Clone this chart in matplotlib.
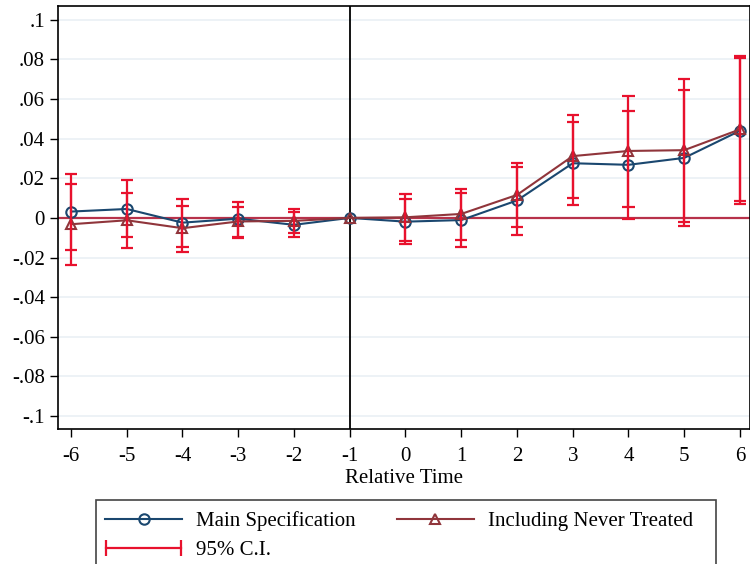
import numpy as np
import matplotlib.pyplot as plt
from matplotlib.lines import Line2D
from matplotlib.patches import Rectangle
from matplotlib.legend_handler import HandlerLine2D

plt.rcParams['font.family'] = ['Liberation Serif', 'DejaVu Serif']

rel_time = [-6, -5, -4, -3, -2, -1, 0, 1, 2, 3, 4, 5, 6]

# main specification: point estimate and 95% CI
main_est = [0.0032, 0.0045, -0.0024, -0.0004, -0.0035, 0.0, -0.0019, -0.0011, 0.0088, 0.0276, 0.0268, 0.0303, 0.0440]
main_lo = [-0.016, -0.0097, -0.0145, -0.0098, -0.0097, 0.0, -0.0133, -0.0148, -0.0087, 0.0066, -0.0007, -0.0040, 0.0071]
main_hi = [0.022, 0.019, 0.0094, 0.0081, 0.0029, 0.0, 0.0096, 0.0125, 0.0259, 0.0486, 0.0542, 0.0646, 0.0808]

# including never treated
nev_est = [-0.0032, -0.0012, -0.0052, -0.0018, -0.0015, 0.0, 0.0003, 0.0020, 0.0116, 0.0312, 0.0338, 0.0342, 0.0447]
nev_lo = [-0.024, -0.0153, -0.017, -0.0101, -0.0077, 0.0, -0.0115, -0.0111, -0.0044, 0.0099, 0.0057, -0.0019, 0.0086]
nev_hi = [0.017, 0.0125, 0.0062, 0.0057, 0.0045, 0.0, 0.0121, 0.0148, 0.0276, 0.052, 0.0618, 0.0702, 0.0815]

yticks = [0.1, 0.08, 0.06, 0.04, 0.02, 0, -0.02, -0.04, -0.06, -0.08, -0.1]
ytick_labels = ['.1', '.08', '.06', '.04', '.02', '0', '-.02', '-.04', '-.06', '-.08', '-.1']

blue = '#1a476f'
maroon = '#90353b'
ci_red = '#e8112d'

fig = plt.figure(figsize=(7.5, 5.64), dpi=100)
ax = fig.add_axes([58 / 750, 1 - 429 / 564, (750 - 58) / 750, (429 - 6) / 564])

ax.set_xlim(-6.233, 6.18)
ax.set_ylim(-0.1066, 0.107)

for y in yticks:
    ax.axhline(y, color='#eaf0f5', lw=1.2, zorder=0)
ax.axhline(0, color='#b7324a', lw=1.6, zorder=1)
ax.axvline(-1, color='black', lw=1.3, zorder=1)

ax.plot(rel_time, main_est, color=blue, lw=1.5, marker='o', ms=7.5,
        mfc='none', mec=blue, mew=1.5, zorder=3)
ax.plot(rel_time, nev_est, color=maroon, lw=1.5, marker='^', ms=7.5,
        mfc='none', mec=maroon, mew=1.5, zorder=3)

ci_x = [t for t in rel_time if t != -1]
for est, lo, hi in [(main_est, main_lo, main_hi), (nev_est, nev_lo, nev_hi)]:
    lo_k = [l for t, l in zip(rel_time, lo) if t != -1]
    hi_k = [h for t, h in zip(rel_time, hi) if t != -1]
    ax.vlines(ci_x, lo_k, hi_k, color=ci_red, lw=1.6, zorder=4)
    ax.hlines(lo_k, np.array(ci_x) - 0.11, np.array(ci_x) + 0.11, color=ci_red, lw=1.6, zorder=4)
    ax.hlines(hi_k, np.array(ci_x) - 0.11, np.array(ci_x) + 0.11, color=ci_red, lw=1.6, zorder=4)

ax.set_xticks(rel_time)
ax.set_xticklabels([str(t) for t in rel_time])
ax.set_yticks(yticks)
ax.set_yticklabels(ytick_labels)
ax.tick_params(labelsize=15, length=6, width=1, direction='out', color='black')
ax.tick_params(axis='x', pad=7)
for s in ax.spines.values():
    s.set_linewidth(1.2)
ax.set_xlabel('Relative Time', fontsize=15, labelpad=2)

# legend box (cut by figure bottom as in the original)
fig.patches.append(Rectangle((96 / 750, -0.05), (716 - 96) / 750, 1 - 500 / 564 + 0.05,
                             transform=fig.transFigure, fill=False, ec='#444444', lw=1.2))

h_main = Line2D([], [], color=blue, lw=1.5, marker='o', ms=7.5, mfc='none', mew=1.5)
h_nev = Line2D([], [], color=maroon, lw=1.5, marker='^', ms=7.5, mfc='none', mew=1.5)
h_ci = Line2D([], [], color=ci_red, lw=1.6, marker='|', ms=11, mew=1.6)

leg = fig.legend([h_main, h_ci, h_nev], ['Main Specification', '95% C.I.', 'Including Never Treated'],
                 ncol=2, loc='upper left', bbox_to_anchor=(105 / 750, 1 - 511 / 564),
                 frameon=False, fontsize=15, handlelength=3.7, handletextpad=0.65,
                 columnspacing=2.0, labelspacing=0.45, borderpad=0, borderaxespad=0,
                 numpoints=1,
                 handler_map={h_ci: HandlerLine2D(numpoints=2, marker_pad=0.05)})

fig.savefig('out.png', dpi=100)
